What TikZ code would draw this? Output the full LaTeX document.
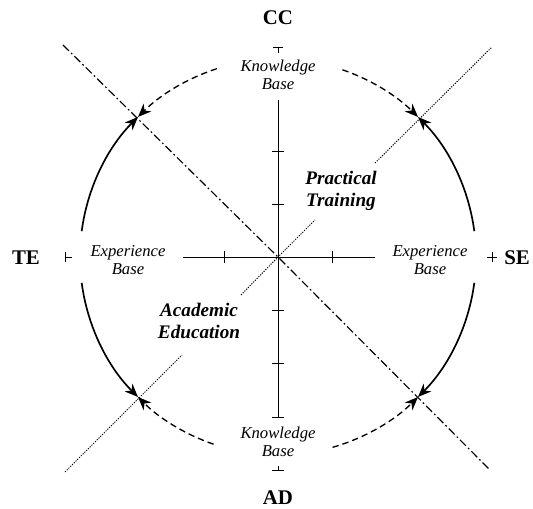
\documentclass[tikz,border=0pt]{standalone}
\usepackage{fontspec}
\setmainfont{Liberation Serif}
\usetikzlibrary{arrows.meta,calc}
\tikzset{
  pole/.style={inner sep=1pt,font=\bfseries\fontsize{12.5}{14}\selectfont},
  basis/.style={align=center,inner sep=1pt,font=\itshape\fontsize{10}{10.5}\selectfont},
  route/.style={align=center,inner sep=1pt,font=\bfseries\itshape\fontsize{11.5}{13}\selectfont},
  axe/.style={line width=0.5pt},
  tip/.style={-{Stealth[length=8pt,width=6.5pt,inset=2.5pt]}},
  fullarc/.style={tip,line width=1pt},
  dasharc/.style={tip,line width=0.8pt,dash pattern=on 3.8pt off 2.4pt},
  dashdot/.style={line width=0.7pt,dash pattern=on 5pt off 1.8pt on 1pt off 1.8pt},
  dots/.style={line width=0.6pt,dash pattern=on 0.7pt off 0.8pt},
}

\begin{document}
\begin{tikzpicture}[x=0.6pt,y=0.6pt]
  \useasboundingbox (-278,-252) rectangle (255,257);
  \coordinate (O) at (0,0);
  % poles
  \node[pole] (cc) at (0,239) {CC};
  \node[pole] (ad) at (0,-241) {AD};
  \node[pole] (te) at (-252,-1) {TE};
  \node[pole] (se) at (239,-1) {SE};
  % bases
  \node[basis] (kbtop) at (0,182) {Knowledge\\Base};
  \node[basis] (kbbot) at (0,-185) {Knowledge\\Base};
  \node[basis] (ebleft) at (-150,-3) {Experience\\Base};
  \node[basis] (ebright) at (152,-3) {Experience\\Base};
  \node[route] (prac) at (63,66) {Practical\\Training};
  \node[route] (acad) at (-79,-64) {Academic\\Education};
  % axes
  \coordinate (vtop) at (0,157);
  \coordinate (vbot) at (0,-160);
  \coordinate (hleft) at (-95,0);
  \coordinate (hright) at (97,0);
  \draw[axe] (vtop) -- (vbot);
  \draw[axe] (hleft) -- (hright);
  \foreach \t in {-106,-53,53,106}
    \draw[axe] (-6,\t) -- (6,\t);
  \foreach \t in {-54,54}
    \draw[axe] (\t,-6) -- (\t,6);
  \draw[axe] ($(vbot)+(-6,0)$) -- ($(vbot)+(6,0)$);
  % end ticks
  \draw[axe] (-5,210) -- (5,210) (0,210) -- (0,204);
  \draw[axe] (-6,-213) -- (6,-213) (0,-213) -- (0,-209);
  \draw[axe] (-213,-5) -- (-213,5) (-213,0) -- (-206,0);
  \draw[axe] (214,-5) -- (214,5) (209,0) -- (219,0);
  % diagonals
  \draw[dashdot] (-215,212) -- (O) -- (212,-213);
  \draw[dots] (-213,-215) -- (-96,-98);
  \draw[dots] (-37,-38) -- (O) -- (37,37);
  \draw[dots] (97,94) -- (214,210);
  % arcs
  \draw[fullarc] (7.5:198) arc[start angle=7.5,end angle=45,radius=198];
  \draw[fullarc] (-7.5:198) arc[start angle=-7.5,end angle=-45,radius=198];
  \draw[fullarc] (172.5:198) arc[start angle=172.5,end angle=135,radius=198];
  \draw[fullarc] (187.5:198) arc[start angle=187.5,end angle=225,radius=198];
  \draw[dasharc] (108:198) arc[start angle=108,end angle=135,radius=198];
  \draw[dasharc] (71:198) arc[start angle=71,end angle=45,radius=198];
  \draw[dasharc] (251:198) arc[start angle=251,end angle=225,radius=198];
  \draw[dasharc] (286:198) arc[start angle=286,end angle=315,radius=198];
\end{tikzpicture}
\end{document}
